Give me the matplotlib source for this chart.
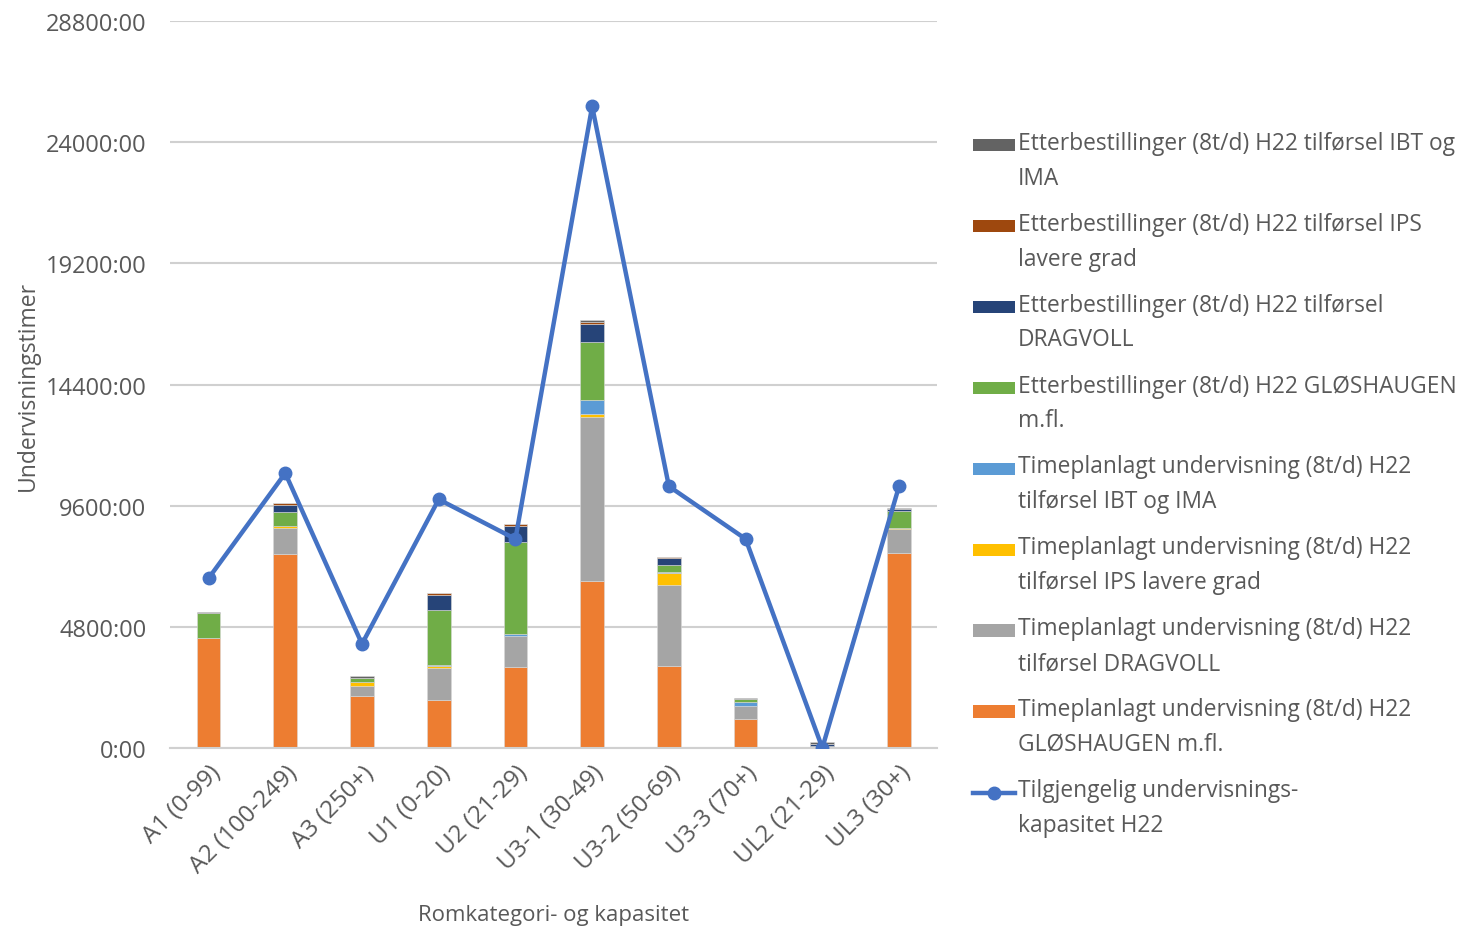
import matplotlib.pyplot as plt
import matplotlib.patches as mpatches
import numpy as np
from matplotlib.legend_handler import HandlerLine2D, HandlerPatch
from matplotlib.ticker import FuncFormatter

categories = ["A1 (0-99)", "A2 (100-249)", "A3 (250+)", "U1 (0-20)", "U2 (21-29)",
              "U3-1 (30-49)", "U3-2 (50-69)", "U3-3 (70+)", "UL2 (21-29)", "UL3 (30+)"]

# hours, stacked bottom -> top
time_glos = [4350, 7680, 2050, 1910, 3220, 6630, 3260, 1135, 0, 7710]
time_dragvoll = [0, 1030, 420, 1250, 1230, 6500, 3210, 540, 80, 980]
time_ips = [0, 90, 160, 90, 0, 90, 460, 0, 0, 40]
time_ibt = [0, 0, 0, 40, 65, 555, 30, 160, 0, 0]
etter_glos = [1000, 555, 160, 2165, 3655, 2310, 290, 90, 0, 645]
etter_dragvoll = [0, 280, 0, 605, 635, 725, 265, 0, 60, 80]
etter_ips = [0, 55, 0, 80, 80, 80, 40, 0, 30, 0]
etter_ibt = [40, 30, 50, 0, 0, 50, 0, 40, 50, 50]
capacity = [6720, 10890, 4120, 9850, 8280, 25430, 10370, 8280, 0, 10370]

series = [
    (time_glos, "#ED7D31", "Timeplanlagt undervisning (8t/d) H22\nGLØSHAUGEN m.fl."),
    (time_dragvoll, "#A5A5A5", "Timeplanlagt undervisning (8t/d) H22\ntilførsel DRAGVOLL"),
    (time_ips, "#FFC000", "Timeplanlagt undervisning (8t/d) H22\ntilførsel IPS lavere grad"),
    (time_ibt, "#5B9BD5", "Timeplanlagt undervisning (8t/d) H22\ntilførsel IBT og IMA"),
    (etter_glos, "#70AD47", "Etterbestillinger (8t/d) H22 GLØSHAUGEN\nm.fl."),
    (etter_dragvoll, "#264478", "Etterbestillinger (8t/d) H22 tilførsel\nDRAGVOLL"),
    (etter_ips, "#9E480E", "Etterbestillinger (8t/d) H22 tilførsel IPS\nlavere grad"),
    (etter_ibt, "#636363", "Etterbestillinger (8t/d) H22 tilførsel IBT og\nIMA"),
]

plt.rcParams["font.family"] = ["Open Sans", "DejaVu Sans"]
text_color = "#595959"
shift = 11.5  # points, lifts legend keys up to the first text line


class UpLine(HandlerLine2D):
    def create_artists(self, legend, orig_handle, xdescent, ydescent, width, height, fontsize, trans):
        return super().create_artists(legend, orig_handle, xdescent, ydescent - 2 * shift,
                                      width, height, fontsize, trans)


def up_patch(legend, orig_handle, xdescent, ydescent, width, height, fontsize):
    return mpatches.Rectangle((-xdescent, -ydescent + shift), width, height)


fig = plt.figure(figsize=(14.67, 9.28), dpi=100)
ax = fig.add_axes([0.116, 0.193, 0.523, 0.783])

x = np.arange(len(categories))
bottom = np.zeros(len(categories))
proxies = []
for values, color, label in series:
    ax.bar(x, values, 0.31, bottom=bottom, color=color,
           edgecolor="#D9D9D9", linewidth=0.4, zorder=2)
    bottom += np.array(values)
    proxies.append(mpatches.Patch(facecolor=color, label=label))

line, = ax.plot(x, capacity, color="#4472C4", linewidth=3.2, marker="o",
                markersize=9, zorder=3,
                label="Tilgjengelig undervisnings-\nkapasitet H22")

ax.set_xlim(-0.5, len(categories) - 0.5)
ax.set_ylim(0, 28800)
ax.set_yticks(np.arange(0, 28801, 4800))
ax.yaxis.set_major_formatter(FuncFormatter(lambda v, p: f"{int(v)}:00"))
ax.grid(axis="y", color="#D0D0D0", linewidth=1.5, zorder=0)
ax.set_axisbelow(True)
for side in ["left", "right", "top"]:
    ax.spines[side].set_visible(False)
ax.spines["bottom"].set_color("#D0D0D0")
ax.spines["bottom"].set_linewidth(1.5)
ax.tick_params(axis="y", length=0, pad=17, labelsize=17, labelcolor=text_color)
ax.tick_params(axis="x", length=0, pad=9, labelsize=17.5, labelcolor=text_color)
ax.set_xticks(x)
ax.set_xticklabels(categories, rotation=45, ha="right", rotation_mode="anchor")

ax.set_ylabel("Undervisningstimer", fontsize=16.5, color=text_color, labelpad=4)
ax.set_xlabel("Romkategori- og kapasitet", fontsize=16, color=text_color, labelpad=19)

leg_handles = proxies[::-1] + [line]
leg_labels = [h.get_label() for h in leg_handles]
leg = fig.legend(leg_handles, leg_labels, loc="upper left", bbox_to_anchor=(0.649, 0.88),
                 frameon=False, fontsize=16.4, labelcolor=text_color, handlelength=1.85,
                 handleheight=0.45, handletextpad=0.15, labelspacing=0.97,
                 handler_map={mpatches.Patch: HandlerPatch(patch_func=up_patch),
                              line: UpLine()})
for t in leg.get_texts():
    t.set_linespacing(1.6)

plt.savefig("out.png", dpi=100)
